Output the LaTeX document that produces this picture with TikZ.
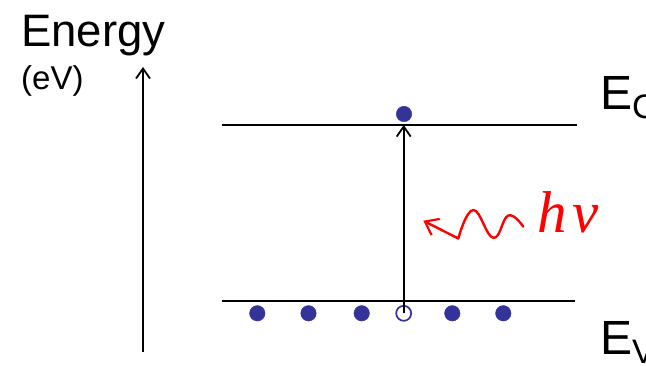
\documentclass[tikz,border=0pt]{standalone}
\usepackage{fontspec}
\setmainfont{Liberation Sans}
\newfontfamily\serifit{Liberation Serif}[ItalicFont={Liberation Serif Italic}]
\usetikzlibrary{arrows.meta}
\definecolor{dotblue}{RGB}{51,51,153}
\tikzset{
  level/.style={line width=2pt, black},
  dot/.style={circle, fill=dotblue, draw=dotblue, minimum size=15.5pt, inner sep=0pt},
  hole/.style={circle, fill=white, draw=dotblue, line width=1.7pt, minimum size=15pt, inner sep=0pt},
  barb/.style={-{Straight Barb[length=10pt,width=14pt,line width=1.8pt]}},
  lbl/.style={inner sep=0pt, anchor=base west}
}
\begin{document}
\begin{tikzpicture}[x=1pt,y=-1pt]
\useasboundingbox (0,0) rectangle (646,366);
\clip (0,0) rectangle (646,366);
% labels
\node[lbl] (energy) at (21,47) {\fontsize{45.5}{45.5}\selectfont Energy};
\node[lbl] (ev) at (21,90) {\fontsize{33}{33}\selectfont (eV)};
% axis
\coordinate (axb) at (143,352);
\coordinate (axt) at (143,67);
\draw[line width=1.9pt, barb] (axb) -- (axt);
% levels
\coordinate (ecl) at (222,125);
\coordinate (ecr) at (577,125);
\coordinate (evl) at (222,301);
\coordinate (evr) at (575,301);
\draw[level] (ecl) -- (ecr);
\draw[level] (evl) -- (evr);
\node[lbl] (ec) at (600,110) {\fontsize{48}{48}\selectfont E\raisebox{-9pt}{\fontsize{34}{34}\selectfont C}};
\node[lbl] (evlab) at (600,355) {\fontsize{48}{48}\selectfont E\raisebox{-9pt}{\fontsize{34}{34}\selectfont V}};
% electrons
\node[dot] (e0) at (404,114) {};
\node[dot] (d1) at (257.3,313.3) {};
\node[dot] (d2) at (308.5,313.3) {};
\node[dot] (d3) at (361.7,313.3) {};
\node[hole] (h) at (403.7,313.3) {};
\node[dot] (d5) at (452.3,313.3) {};
\node[dot] (d6) at (503.3,313.3) {};
% excitation arrow
\coordinate (tip) at (403.7,125);
\draw[line width=2pt, barb] (h.center) -- (tip);
% photon
\coordinate (ws) at (523.3,226.7);
\coordinate (wt) at (458.3,238.5);
\coordinate (we) at (423.3,220.7);
\draw[red, line width=2.4pt, line cap=round, line join=round, -{Straight Barb[length=12pt,width=18pt,line width=2.2pt]}]
  plot[smooth, tension=0.75] coordinates {(ws) (508.3,215.5) (493.3,237.8) (473.3,210) (wt)} -- (we);
\node[lbl, red] (hnu) at (537,233) {\fontsize{59}{59}\selectfont\serifit\itshape h\hspace{6pt}ν};
\end{tikzpicture}
\end{document}
